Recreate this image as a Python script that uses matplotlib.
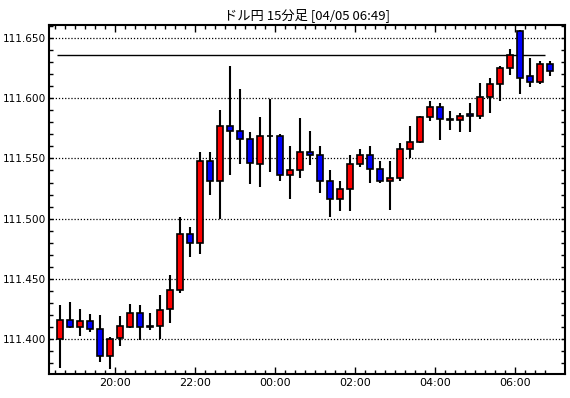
import numpy as np
import pandas as pd
import matplotlib
matplotlib.use("Agg")
import matplotlib.pyplot as plt
from matplotlib.ticker import MultipleLocator, FixedLocator

plt.rcParams['font.family'] = ['Noto Sans CJK JP', 'DejaVu Sans']

# 15分足 ドル円 (18:30 - 06:45)
times = pd.date_range("2018-04-04 18:30", periods=50, freq="15min")

opens = [111.400, 111.416, 111.410, 111.415, 111.408, 111.386, 111.401, 111.410, 111.422, 111.411,
         111.4105, 111.425, 111.441, 111.487, 111.480, 111.548, 111.531, 111.577, 111.5725, 111.566,
         111.545, 111.569, 111.569, 111.536, 111.540, 111.555, 111.5525, 111.531, 111.516, 111.525,
         111.545, 111.5525, 111.541, 111.531, 111.534, 111.5575, 111.564, 111.584, 111.593, 111.583,
         111.5815, 111.5865, 111.585, 111.601, 111.6115, 111.6255, 111.6555, 111.6185, 111.6135, 111.6285]
closes = [111.416, 111.410, 111.415, 111.408, 111.386, 111.400, 111.411, 111.422, 111.410, 111.410,
          111.424, 111.441, 111.487, 111.480, 111.548, 111.531, 111.577, 111.5725, 111.566, 111.546,
          111.569, 111.569, 111.536, 111.540, 111.555, 111.5525, 111.5315, 111.516, 111.525, 111.545,
          111.5525, 111.541, 111.531, 111.534, 111.5575, 111.564, 111.584, 111.593, 111.583, 111.5815,
          111.585, 111.585, 111.601, 111.6115, 111.6255, 111.6355, 111.617, 111.6135, 111.6285, 111.6225]
highs = [111.428, 111.431, 111.425, 111.421, 111.420, 111.402, 111.419, 111.429, 111.428, 111.422,
         111.437, 111.453, 111.501, 111.493, 111.555, 111.555, 111.590, 111.627, 111.608, 111.572,
         111.584, 111.599, 111.570, 111.5605, 111.5835, 111.573, 111.560, 111.540, 111.531, 111.5525,
         111.558, 111.560, 111.5475, 111.5475, 111.5625, 111.577, 111.5855, 111.598, 111.596, 111.589,
         111.5875, 111.596, 111.613, 111.6165, 111.6265, 111.6405, 111.6565, 111.6335, 111.6305, 111.6305]
lows = [111.376, 111.409, 111.4025, 111.406, 111.381, 111.375, 111.394, 111.409, 111.399, 111.4075,
        111.400, 111.413, 111.4385, 111.468, 111.471, 111.520, 111.500, 111.536, 111.545, 111.529,
        111.5265, 111.539, 111.531, 111.516, 111.534, 111.5445, 111.521, 111.5015, 111.506, 111.5065,
        111.5425, 111.530, 111.530, 111.507, 111.5315, 111.550, 111.5625, 111.581, 111.565, 111.574,
        111.572, 111.572, 111.583, 111.5875, 111.598, 111.6195, 111.6035, 111.609, 111.6115, 111.6185]

ref_level = 111.6355
tick_labels = ["20:00", "22:00", "00:00", "02:00", "04:00", "06:00"]
title = "ドル円 15分足 [04/05 06:49]"

o = np.array(opens)
c = np.array(closes)
h = np.array(highs)
l = np.array(lows)
x = np.arange(len(times))

fig = plt.figure(figsize=(5.7, 3.98), dpi=100)
ax = fig.add_axes([49/570, 24/398, 516/570, 349/398])

# ヒゲ
ax.vlines(x, l, h, color='black', linewidth=1.5, zorder=2)
# 実体 (陽線=赤, 陰線=青)
colors = np.where(c > o, 'red', 'blue')
ax.bar(x, np.abs(c - o), width=0.6, bottom=np.minimum(o, c), color=colors,
       edgecolor='black', linewidth=1.2, zorder=3)

# 基準線
ax.hlines(ref_level, -0.35, 48.45, color='black', linewidth=1.0, zorder=1)

ax.set_xlim(-1.13, 50.47)
ax.set_ylim(111.371, 111.6608)

# y軸
ax.yaxis.set_major_locator(MultipleLocator(0.05))
ax.yaxis.set_minor_locator(MultipleLocator(0.01))
ax.yaxis.set_major_formatter(plt.FuncFormatter(lambda v, p: f"{v:.3f}"))
ax.grid(axis='y', which='major', linestyle=(0, (1, 1.5)), color='black', linewidth=0.9)

# x軸
tpos = [list(times.strftime("%H:%M")).index(t) - 0.5 for t in tick_labels]
ax.xaxis.set_major_locator(FixedLocator(tpos))
ax.set_xticklabels(tick_labels)
ax.xaxis.set_minor_locator(FixedLocator(x - 0.5))

ax.tick_params(which='both', direction='in', top=True, right=True, color='black', width=1)
ax.tick_params(axis='x', labelsize=8)
ax.tick_params(axis='y', labelsize=7.6)
ax.tick_params(which='major', length=5, pad=3)
ax.tick_params(which='minor', length=3)
ax.tick_params(axis='y', which='major', length=3, pad=2)
for lab in ax.get_xticklabels() + ax.get_yticklabels():
    lab.set_family('DejaVu Sans')

for s in ax.spines.values():
    s.set_linewidth(1.5)

ax.set_axisbelow(True)
ax.set_title(title, fontsize=9.5, pad=4)

fig.savefig("out.png", dpi=100)
